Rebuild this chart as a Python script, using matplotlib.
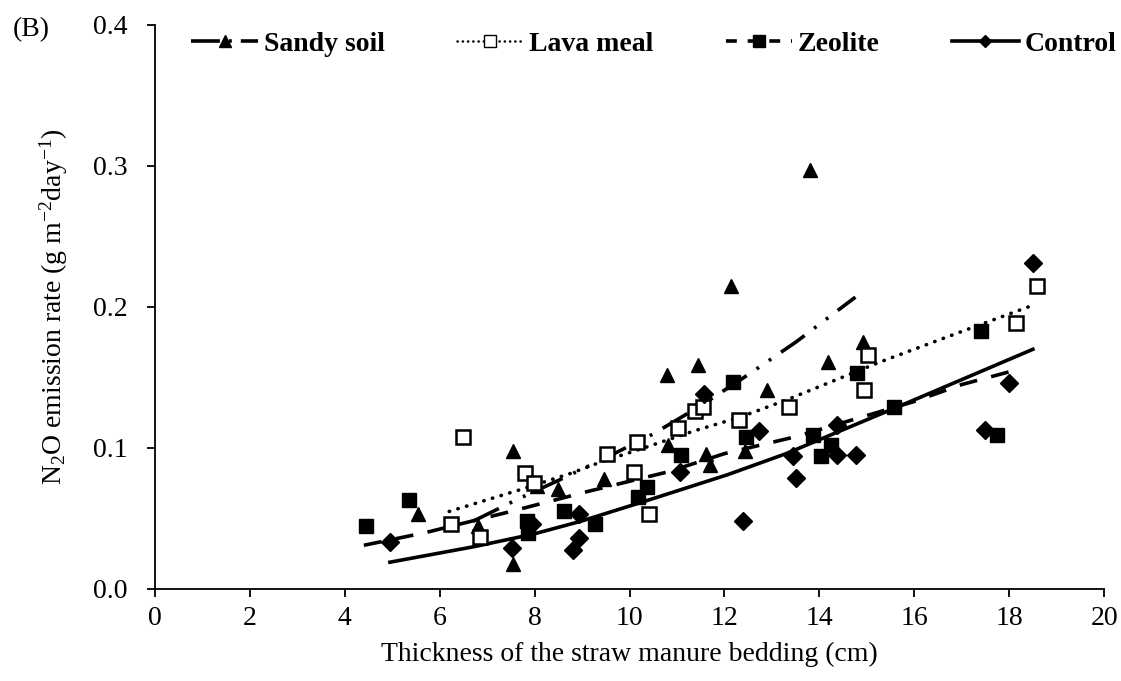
import numpy as np
import matplotlib
matplotlib.use("Agg")
import matplotlib.pyplot as plt

plt.rcParams['font.family'] = ['Liberation Serif', 'DejaVu Serif']
plt.rcParams['mathtext.default'] = 'regular'

# scatter data (thickness cm, N2O g m-2 day-1)
sandy_x = [5.55, 6.8, 7.55, 7.55, 8.04, 8.5, 9.46, 10.78, 10.82, 11.45, 11.62, 11.7, 12.13, 12.44, 12.9, 13.81, 14.19, 14.93]
sandy_y = [0.053, 0.045, 0.098, 0.018, 0.073, 0.071, 0.078, 0.152, 0.102, 0.159, 0.096, 0.088, 0.215, 0.098, 0.141, 0.297, 0.161, 0.175]

lava_x = [6.23, 6.48, 6.84, 7.8, 7.98, 9.52, 10.1, 10.15, 10.42, 11.03, 11.37, 11.54, 12.3, 13.37, 14.95, 15.03, 18.15, 18.58]
lava_y = [0.046, 0.108, 0.037, 0.082, 0.075, 0.096, 0.083, 0.104, 0.053, 0.114, 0.126, 0.129, 0.120, 0.129, 0.141, 0.166, 0.189, 0.215]

zeo_x = [4.44, 5.35, 7.83, 7.85, 8.61, 9.28, 10.17, 10.36, 11.09, 12.19, 12.46, 13.87, 14.04, 14.25, 14.8, 15.58, 17.41, 17.75]
zeo_y = [0.045, 0.063, 0.048, 0.040, 0.055, 0.046, 0.065, 0.072, 0.095, 0.147, 0.108, 0.109, 0.094, 0.102, 0.153, 0.129, 0.183, 0.109]

ctrl_x = [4.96, 7.52, 7.95, 8.8, 8.93, 8.93, 11.07, 11.56, 12.4, 12.72, 13.45, 13.5, 14.38, 14.38, 14.78, 17.5, 18.0, 18.5]
ctrl_y = [0.033, 0.029, 0.046, 0.028, 0.036, 0.053, 0.083, 0.138, 0.048, 0.112, 0.094, 0.079, 0.116, 0.095, 0.095, 0.113, 0.146, 0.231]

# trend lines
sandy_fx = [6.7, 7.6, 8.5, 9.5, 10.5, 11.5, 12.5, 13.5, 14.76]
sandy_fy = [0.048, 0.063, 0.077, 0.093, 0.110, 0.130, 0.152, 0.175, 0.207]

lava_fx = [6.2, 7.75, 8.76, 9.39, 10.3, 11.35, 12.34, 13.3, 15.28, 17.03, 18.48]
lava_fy = [0.055, 0.071, 0.082, 0.090, 0.100, 0.112, 0.122, 0.134, 0.161, 0.183, 0.201]

zeo_fx = [4.4, 5.7, 7.5, 9.1, 10.8, 12.0, 13.5, 15.0, 16.0, 17.0, 18.0]
zeo_fy = [0.031, 0.040, 0.055, 0.069, 0.083, 0.096, 0.108, 0.123, 0.133, 0.145, 0.154]

ctrl_fx = [4.95, 6.72, 7.98, 8.97, 10.3, 12.06, 13.3, 15.85, 18.5]
ctrl_fy = [0.019, 0.030, 0.039, 0.048, 0.062, 0.081, 0.096, 0.132, 0.170]

fig = plt.figure(figsize=(11.21, 6.81), dpi=100)
ax = fig.add_axes([0.1383, 0.1351, 0.8466, 0.8282])

lw = 2.6
sandy_dash = (8, 3.3, 0.8, 3.3, 0.8, 3.3)
ax.plot(sandy_fx, sandy_fy, color='black', lw=lw, dashes=sandy_dash)
ax.plot(lava_fx, lava_fy, color='black', lw=lw, linestyle=(0, (0.1, 2.4)),
        dash_capstyle='round')
ax.plot(zeo_fx, zeo_fy, color='black', lw=lw, dashes=(5, 4))
ax.plot(ctrl_fx, ctrl_fy, color='black', lw=lw)

ax.plot(sandy_x, sandy_y, '^', color='black', ms=10.5, ls='none')
ax.plot(lava_x, lava_y, 's', mfc='white', mec='black', mew=1.8, ms=10, ls='none')
ax.plot(zeo_x, zeo_y, 's', color='black', ms=10.5, ls='none')
ax.plot(ctrl_x, ctrl_y, 'D', color='black', ms=9, ls='none')

# legend handles
h1, = ax.plot([], [], color='black', lw=lw, marker='^', ms=8, dashes=(8, 2.5, 0.8, 2.5))
h2, = ax.plot([], [], color='black', lw=1.8, marker='s', ms=8, mfc='white',
              linestyle=(0, (0.1, 2)), dash_capstyle='round')
h3, = ax.plot([], [], color='black', lw=lw, marker='s', ms=8, dashes=(3, 3))
h4, = ax.plot([], [], color='black', lw=lw, marker='D', ms=6)
ax.legend([h1, h2, h3, h4], ['Sandy soil', 'Lava meal', 'Zeolite', 'Control'],
          ncol=4, frameon=False, loc='upper left', bbox_to_anchor=(0.012, 1.033),
          prop={'weight': 'bold', 'size': 20}, handlelength=2.4, columnspacing=2.6,
          handletextpad=0.2)

ax.set_xlim(0, 20)
ax.set_ylim(0, 0.4)
ax.set_xticks(np.arange(0, 21, 2))
ax.set_yticks([0.0, 0.1, 0.2, 0.3, 0.4])
ax.set_yticklabels(['0.0', '0.1', '0.2', '0.3', '0.4'])
ax.spines['top'].set_visible(False)
ax.spines['right'].set_visible(False)
ax.spines['left'].set_linewidth(1.3)
ax.spines['bottom'].set_linewidth(1.3)
ax.tick_params(direction='out', length=6, width=1.3, labelsize=20)
ax.tick_params(axis='x', pad=6)
ax.tick_params(axis='y', pad=14)

ax.set_xlabel('Thickness of the straw manure bedding (cm)', fontsize=20, labelpad=8)
ax.set_ylabel('N$_2$O emission rate (g m$^{-2}$day$^{-1}$)', fontsize=20, labelpad=16)

fig.text(0.011, 0.975, '(B)', fontsize=20, va='top')

fig.savefig('out.png', dpi=100)
